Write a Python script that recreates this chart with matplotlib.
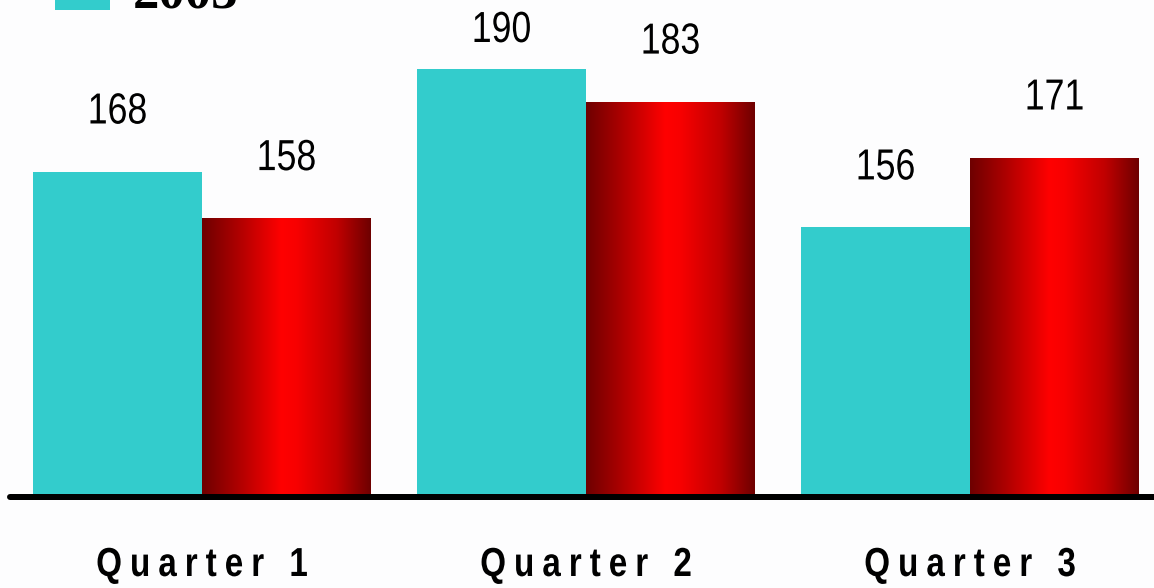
import matplotlib
matplotlib.use("Agg")
import matplotlib.pyplot as plt
import numpy as np
from matplotlib.colors import LinearSegmentedColormap
from matplotlib.patches import Rectangle, PathPatch
from matplotlib.font_manager import FontProperties, findfont
from matplotlib.ft2font import FT2Font
from matplotlib.textpath import TextPath
from matplotlib.transforms import Affine2D, IdentityTransform

# ---- data ----
quarters = ["Quarter 1", "Quarter 2", "Quarter 3"]
values_2003 = [168, 190, 156]
values_2004 = [158, 183, 171]
legend_label = "2003"

# ---- style ----
W, H, DPI = 1154, 588, 100
BG = "#fdfdfe"
TEAL = "#33cccc"
SANS = "Liberation Sans"
SERIF = ["Liberation Serif", "DejaVu Serif"]
NARROW_SCALE = 0.82          # horizontal squeeze for a narrow face

fig = plt.figure(figsize=(W / DPI, H / DPI), dpi=DPI, facecolor=BG)
ax = fig.add_axes([0, 0, 1, 1])
ax.set_facecolor(BG)
ax.axis("off")

# value axis: baseline value sits on the floor line
base = 98.8
ylim = (78.63, 204.8)
xlim = (-0.526, 2.479)
width = 0.44
x = np.arange(len(quarters))

ax.bar(x - width, np.array(values_2003) - base, width, bottom=base,
       align="edge", color=TEAL, linewidth=0, zorder=2)
red_bars = ax.bar(x, np.array(values_2004) - base, width, bottom=base,
                  align="edge", facecolor="none", linewidth=0, zorder=2)

# cylinder-like shading across each red bar
shade = LinearSegmentedColormap.from_list(
    "shade",
    [(0.0, "#6e0000"), (0.22, "#b00000"), (0.47, "#ff0000"),
     (0.56, "#f80000"), (0.80, "#c00000"), (1.0, "#6e0000")])
grad = np.linspace(0, 1, 256).reshape(1, -1)
for p in red_bars.patches:
    x0, y0 = p.get_x(), p.get_y()
    im = ax.imshow(grad, cmap=shade, aspect="auto", interpolation="bicubic",
                   extent=[x0, x0 + p.get_width(), y0, y0 + p.get_height()],
                   zorder=2)
    im.set_clip_path(p)

ax.set_xlim(*xlim)
ax.set_ylim(*ylim)

# floor line
px_per_unit = H / (ylim[1] - ylim[0])
line_y = base - 3 / px_per_unit
ax.plot([-0.5, 3.0], [line_y, line_y], color="black", lw=6 * 72 / DPI,
        solid_capstyle="round", zorder=3, clip_on=False)


def squeezed_text(s, cx, baseline, size_px, weight="normal", track=0.0):
    """Draw s centred at pixel cx on pixel baseline (from bottom),
    squeezed horizontally and with extra letter spacing."""
    prop = FontProperties(family=SANS, weight=weight)
    ft = FT2Font(findfont(prop))
    ft.set_size(size_px * 72 / DPI, DPI)
    advs = [ft.load_char(ord(c)).linearHoriAdvance / 65536.0 * NARROW_SCALE
            for c in s]
    total = sum(advs) + track * (len(s) - 1)
    pos = cx - total / 2
    for c, a in zip(s, advs):
        if c != " ":
            path = TextPath((0, 0), c, size=size_px, prop=prop)
            tr = Affine2D().scale(NARROW_SCALE, 1).translate(pos, baseline)
            fig.add_artist(PathPatch(path, transform=tr + IdentityTransform(),
                                     facecolor="black", edgecolor="none",
                                     lw=0, zorder=5))
        pos += a + track


# value labels above the bars, kept inside the top edge
def label_bars(xs, vals):
    for xc, v in zip(xs, vals):
        px, py = ax.transData.transform((xc, v))
        base_from_top = max(42.0, (H - py) - 48.0)
        squeezed_text(str(v), px, H - base_from_top, 43.5)


label_bars(x - width / 2, values_2003)
label_bars(x + width / 2, values_2004)

# letter-spaced category labels
for xc, name in zip(x, quarters):
    px = ax.transData.transform((xc, 0))[0]
    squeezed_text(name, px, H - 576, 40.5, weight="bold", track=8.0)

# legend entry running off the top edge
fig.add_artist(Rectangle((55 / W, 1 - 10 / H), 55 / W, 55 / H,
                         transform=fig.transFigure, facecolor=TEAL,
                         edgecolor="none"))
fig.text(133 / W, 1 - 7 / H, legend_label, ha="left", va="baseline",
         fontsize=38, family=SERIF, weight="bold", color="black")

fig.savefig("out.png", dpi=DPI, facecolor=BG)
